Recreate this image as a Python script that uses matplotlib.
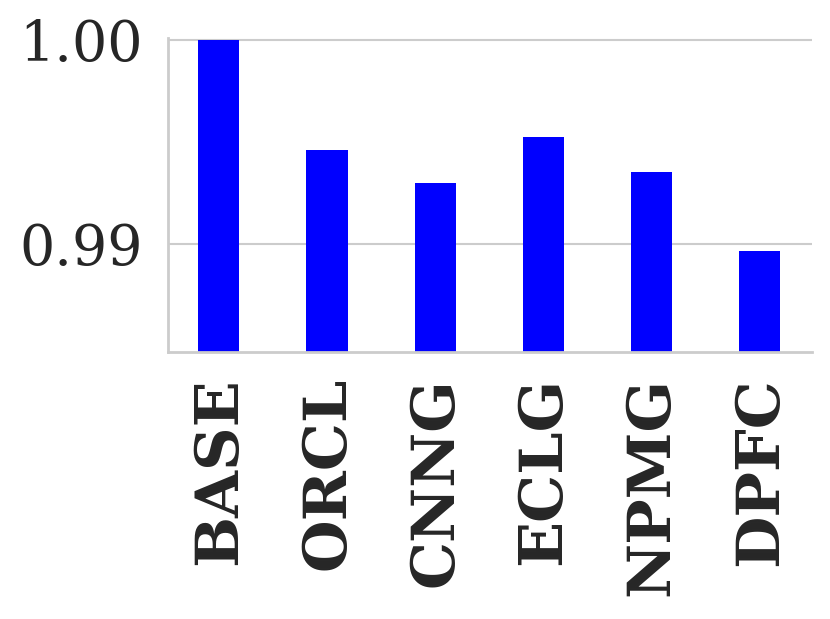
import matplotlib
matplotlib.use("Agg")
import matplotlib.pyplot as plt
import seaborn as sns

methods = ["BASE", "ORCL", "CNNG", "ECLG", "NPMG", "DPFC"]
scores = [1.0000, 0.99461, 0.99299, 0.99525, 0.99353, 0.98966]

sns.set_theme(style="whitegrid")
plt.rcParams['font.family'] = ['DejaVu Serif']

fig = plt.figure(figsize=(8.3, 6.19), dpi=100)
ax = fig.add_subplot(111)
fig.subplots_adjust(left=0.2024, right=0.978, top=0.9386, bottom=0.4313)

ax.bar(range(len(methods)), scores, width=0.38, color="blue", edgecolor="none", zorder=2)
ax.set_xlim(-0.47, len(methods) - 0.52)
ax.set_ylim(0.9847, 1.0001)
ax.set_yticks([0.99, 1.00])
ax.set_yticklabels(["0.99", "1.00"], fontsize=40, color="#262626")
ax.set_xticks(range(len(methods)))
ax.set_xticklabels(methods, rotation=90, fontsize=43.5, fontweight="bold", color="#262626")
ax.xaxis.grid(False)
ax.yaxis.grid(True, color="#cccccc", linewidth=1.5)
sns.despine(ax=ax)
for s in ["left", "bottom"]:
    ax.spines[s].set_color("#cccccc")
    ax.spines[s].set_linewidth(2)
ax.tick_params(axis="y", pad=12)
ax.tick_params(axis="x", pad=12)

plt.savefig("out.png", dpi=100)
